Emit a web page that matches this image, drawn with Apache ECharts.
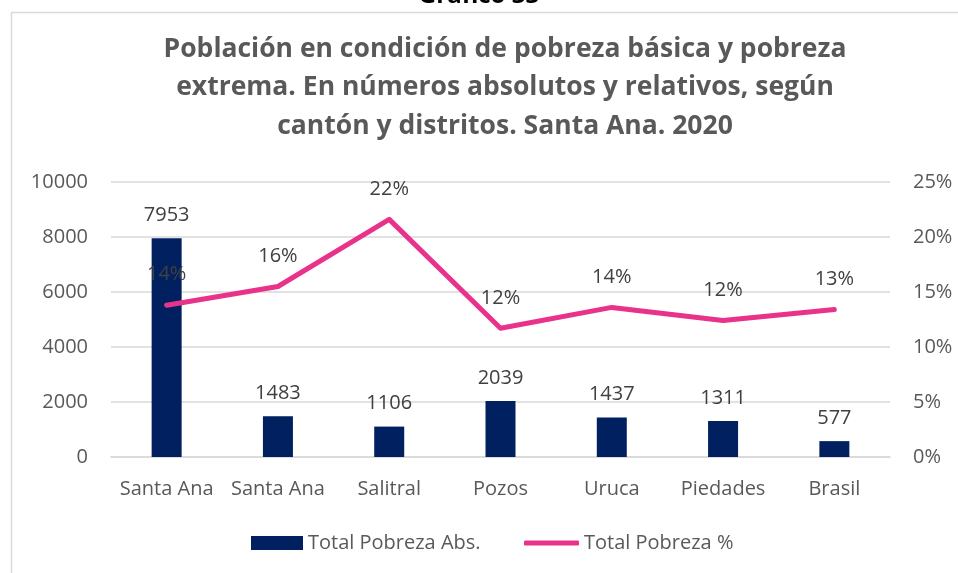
<!DOCTYPE html>
<html>
<head>
<meta charset="utf-8">
<script src="https://cdn.jsdelivr.net/npm/echarts@6/dist/echarts.min.js"></script>
<style>
html,body{margin:0;padding:0;background:#fff;}
#c{width:958px;height:573px;}
</style>
</head>
<body>
<div id="c"></div>
<script>
var categories = ['Santa Ana', 'Santa Ana', 'Salitral', 'Pozos', 'Uruca', 'Piedades', 'Brasil'];
var pobrezaAbs = [7953, 1483, 1106, 2039, 1437, 1311, 577];
var pobrezaPct = [0.138, 0.155, 0.216, 0.117, 0.136, 0.124, 0.134];
var leftTicks = [0, 2000, 4000, 6000, 8000, 10000];
var rightTicks = [0, 0.05, 0.10, 0.15, 0.20, 0.25];

var FONT = '"Open Sans", Lato, sans-serif';
var LBL = 20;
var chart = echarts.init(document.getElementById('c'));
chart.setOption({
  backgroundColor: '#ffffff',
  animation: false,
  graphic: [
    { type: 'rect', shape: { x: 11.5, y: 12.5, width: 1000, height: 1000 }, style: { fill: 'none', stroke: '#d9d9d9', lineWidth: 1.5 }, silent: true },
    { type: 'text', left: 'center', top: -16, style: { text: 'Gráfico 33', font: 'bold 24px ' + FONT, fill: '#000' } }
  ],
  title: {
    text: 'Población en condición de pobreza básica y pobreza\nextrema. En números absolutos y relativos, según\ncantón y distritos. Santa Ana. 2020',
    left: 500, textAlign: 'center', top: 25,
    textStyle: { fontFamily: FONT, fontWeight: 'bold', fontSize: 26.5, color: '#595959', lineHeight: 38.5 }
  },
  legend: [
    {
      top: 528, left: 246,
      itemWidth: 52, itemHeight: 14,
      textStyle: { fontFamily: FONT, fontSize: LBL, color: '#595959' },
      data: [{ name: 'Total Pobreza Abs.', icon: 'rect' }]
    },
    {
      top: 528, left: 519,
      itemWidth: 55, itemHeight: 5,
      textStyle: { fontFamily: FONT, fontSize: LBL, color: '#595959' },
      data: [{ name: 'Total Pobreza %', icon: 'roundRect' }]
    }
  ],
  grid: { left: 111, right: 68, top: 182, bottom: 116 },
  xAxis: {
    type: 'category', data: categories,
    axisTick: { show: false },
    axisLine: { lineStyle: { color: '#d9d9d9', width: 1.5 } },
    axisLabel: { fontFamily: FONT, fontSize: LBL, color: '#595959', margin: 22, interval: 0 }
  },
  yAxis: [
    {
      type: 'value', min: leftTicks[0], max: leftTicks[leftTicks.length - 1], interval: 2000,
      axisLine: { show: false }, axisTick: { show: false },
      splitLine: { lineStyle: { color: '#d9d9d9', width: 1.5 } },
      axisLabel: { fontFamily: FONT, fontSize: LBL, color: '#595959', margin: 23,
        formatter: function (v) { return String(v); } }
    },
    {
      type: 'value', min: rightTicks[0], max: rightTicks[rightTicks.length - 1], interval: 0.05,
      axisLine: { show: false }, axisTick: { show: false }, splitLine: { show: false },
      axisLabel: { fontFamily: FONT, fontSize: LBL, color: '#595959', margin: 23,
        formatter: function (v) { return Math.round(v * 100) + '%'; } }
    }
  ],
  series: [
    {
      name: 'Total Pobreza Abs.', type: 'bar', data: pobrezaAbs, barWidth: 30,
      itemStyle: { color: '#002060' },
      label: { show: true, position: 'top', distance: 13, fontFamily: FONT, fontSize: LBL, color: '#404040' }
    },
    {
      name: 'Total Pobreza %', type: 'line', yAxisIndex: 1, data: pobrezaPct,
      symbol: 'circle', symbolSize: 1, showSymbol: true,
      lineStyle: { color: '#E9338A', width: 5, cap: 'round', join: 'round' },
      itemStyle: { color: '#E9338A' },
      label: { show: true, position: 'top', distance: 20, fontFamily: FONT, fontSize: LBL, color: '#404040',
        formatter: function (p) { return Math.round(p.value * 100) + '%'; } },
      z: 3
    }
  ]
});
</script>
</body>
</html>
